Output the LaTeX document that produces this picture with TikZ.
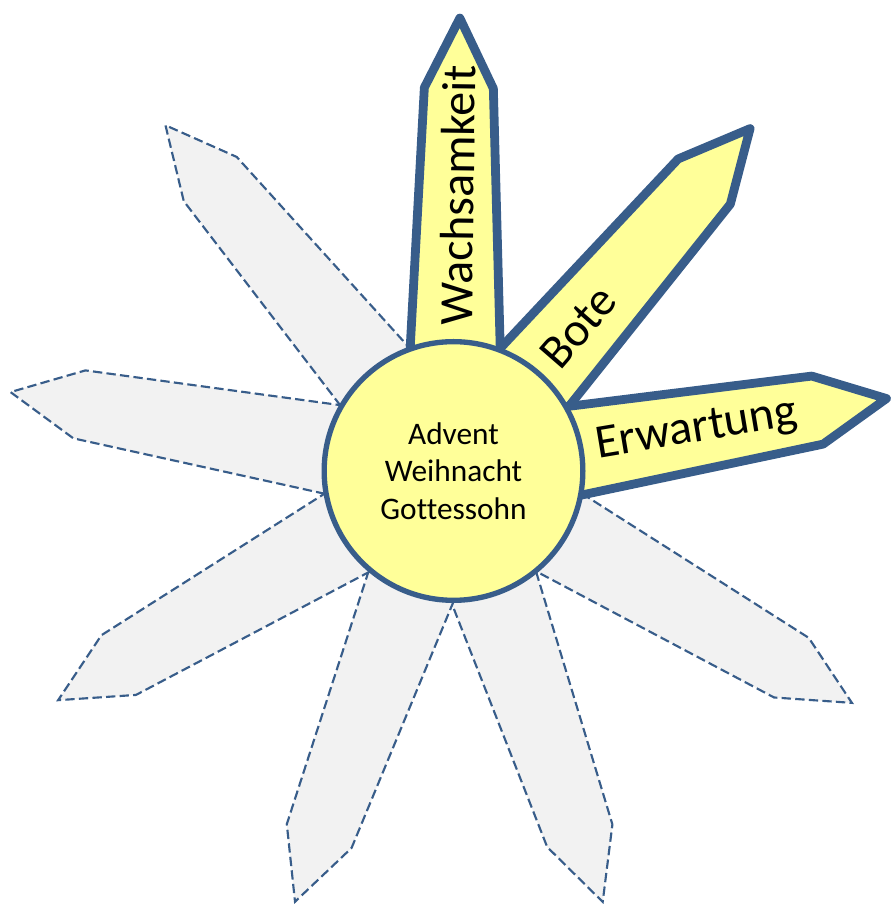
\documentclass[tikz,border=0pt]{standalone}
\usepackage{fontspec}
\setmainfont{Carlito}[Ligatures=NoCommon]
\usepackage{tikz}
\usetikzlibrary{positioning,calc}
\definecolor{petalblue}{RGB}{56,93,138}
\definecolor{petalyellow}{RGB}{255,255,153}
\definecolor{petalgrey}{RGB}{242,242,242}

\begin{document}
\begin{tikzpicture}[x=0.75pt,y=0.75pt,
  greypetal/.style={fill=petalgrey, draw=petalblue, line width=1.6pt, dash pattern=on 7pt off 3.2pt},
  keypetal/.style={fill=petalyellow, draw=petalblue, line width=6.6pt, line join=round},
  petallabel/.style={font=\fontsize{36}{43}\selectfont, anchor=west, inner sep=0pt},
  core/.style={circle, fill=petalyellow, draw=petalblue, line width=4pt, minimum size=194pt, align=center, font=\fontsize{23.5}{28}\selectfont}]
  \useasboundingbox (0,0) rectangle (891,904);
  \coordinate (c) at (453.5,433);

  % grey petals
  \foreach \a/\len in {329.8/461, 289.1/456, 249.8/459, 210.1/457, 169.9/450, 129.8/450}{
    \begin{scope}[shift={(c)},rotate=\a]
      \draw[greypetal] (0,50) -- ({\len-70},34.5) -- (\len,0) -- ({\len-70},-34.5) -- (0,-50) -- cycle;
    \end{scope}
  }

  % highlighted petals
  \foreach \a/\len/\txt in {89.2/453/Wachsamkeit, 49.1/453/Bote, 9.5/439/Erwartung}{
    \begin{scope}[shift={(c)},rotate=\a]
      \draw[keypetal] (0,50) -- ({\len-70},34.5) -- (\len,0) -- ({\len-70},-34.5) -- (0,-50) -- cycle;
      \node[petallabel, rotate=\a] (\txt) at (145,0) {\txt};
    \end{scope}
  }

  \node[core] (heart) at (c) {Advent\\Weihnacht\\Gottessohn};
\end{tikzpicture}
\end{document}
